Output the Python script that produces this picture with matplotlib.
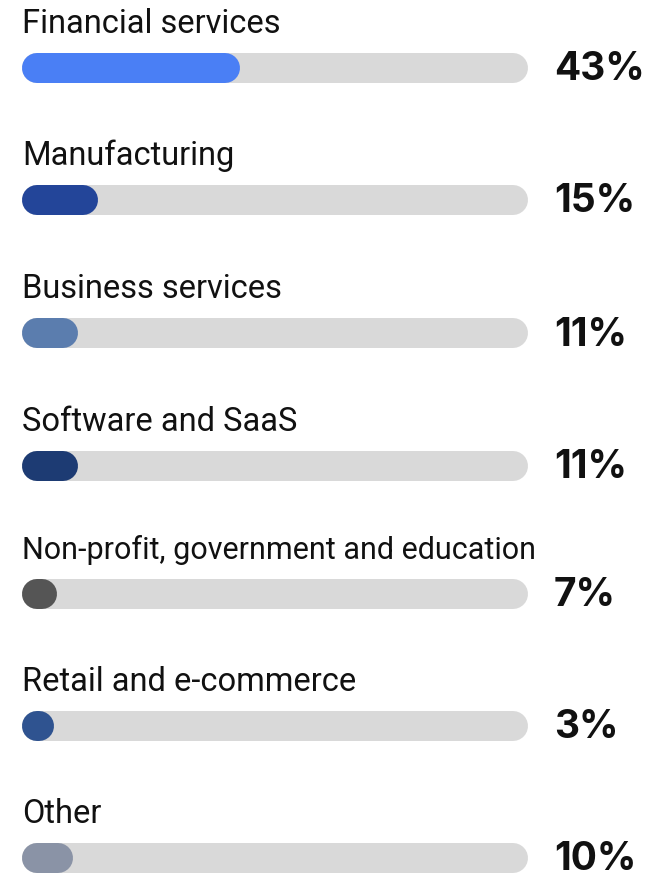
import matplotlib
matplotlib.use("Agg")
import matplotlib.pyplot as plt

# industry shares (%)
industries = [
    "Financial services",
    "Manufacturing",
    "Business services",
    "Software and SaaS",
    "Non-profit, government and education",
    "Retail and e-commerce",
    "Other",
]
shares = [43, 15, 11, 11, 7, 3, 10]
bar_colors = ["#4a7ff5", "#234599", "#5b7dae", "#1d3b73", "#555555", "#2f5390", "#8a93a6"]
label_sizes = [23.5, 23.5, 23.5, 23.5, 22, 23.5, 23.5]

W, H = 647, 877
track_left, track_right = 22, 528
bar_h = 30  # pixels
row_y = [68, 200, 333, 466, 594, 726, 858]
track_color = "#d9d9d9"

fig = plt.figure(figsize=(W / 100, H / 100), dpi=100)
fig.patch.set_facecolor("white")

# x axis in percent units, spanning the grey track; y in pixels
ax = fig.add_axes([track_left / W, 0, (track_right - track_left) / W, 1])
ax.set_xlim(0, 100)
ax.set_ylim(H, 0)
ax.axis("off")

units_per_px = 100 / (track_right - track_left)
r = bar_h / 2 * units_per_px  # cap radius in percent units
lw = bar_h * 72 / 100  # line width in points

for name, val, col, fs, y in zip(industries, shares, bar_colors, label_sizes, row_y):
    ax.plot([r, 100 - r], [y, y], color=track_color, lw=lw,
            solid_capstyle="round", clip_on=False)
    # small shares still show a full round dot
    end = max(val, 2 * r + 0.3)
    ax.plot([r, end - r], [y, y], color=col, lw=lw,
            solid_capstyle="round", clip_on=False)
    ax.text(0, y - 35, name, fontsize=fs, family="Roboto", color="#111111",
            ha="left", va="baseline", clip_on=False)
    fig.text(554 / W, 1 - (y + 2) / H, f"{val}%", fontsize=28, family="Inter",
             fontweight="bold", color="#111111", ha="left", va="center")

fig.savefig("out.png", dpi=100, facecolor="white")
